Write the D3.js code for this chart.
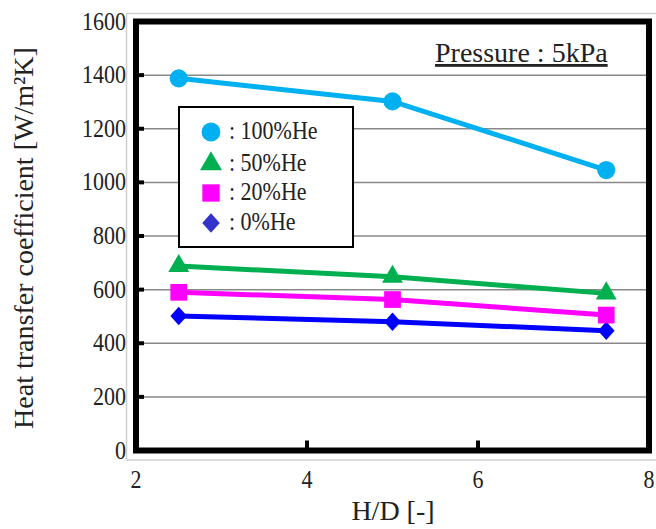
<!DOCTYPE html>
<html>
<head>
<meta charset="utf-8">
<script src="https://cdn.jsdelivr.net/npm/d3@7"></script>
<style>
  body { margin: 0; background: #fff; }
</style>
</head>
<body>
<svg id="chart" width="656" height="529" font-family="'Liberation Serif', 'Times New Roman', Times, serif"></svg>
<script>
// data
var hd = [2.5, 5, 7.5]
var he100 = [1388, 1302, 1046]
var he50 = [688, 648, 586]
var he20 = [590, 563, 505]
var he0 = [502, 480, 447]
var xTicks = [2, 4, 6, 8]
var yTicks = [0, 200, 400, 600, 800, 1000, 1200, 1400, 1600]
var seriesNames = [": 100%He", ": 50%He", ": 20%He", ": 0%He"]

var svg = d3.select("#chart")
const frame = { left: 136, right: 649, top: 21.5, bottom: 450.5 }

var x = d3.scaleLinear().domain([2, 8]).range([frame.left, frame.right])
var y = d3.scaleLinear().domain([0, 1600]).range([frame.bottom, frame.top])

// tick and legend text in the picture is slightly taller than wide
function tallText(sel, px, py, size) {
  return sel.append("text").attr("transform", "translate(" + px + "," + py + ") scale(1,1.18)")
    .style("font-size", size + "px").style("fill", "#222")
}

// light outer border of chart area
svg.append("rect").attr("x", 126.5).attr("y", 13.5).attr("width", 540).attr("height", 446.5)
  .style("fill", "none").style("stroke", "#d0d0d0").style("stroke-width", 1.5)

// gridlines
svg.selectAll(".grid").data(yTicks.filter(d => d > 0 && d < 1600)).join("line").attr("class", "grid")
  .attr("x1", frame.left).attr("x2", frame.right).attr("y1", d => y(d)).attr("y2", d => y(d))
  .style("stroke", "#888").style("stroke-width", 1.5)

// y tick labels
yTicks.forEach(function (d) {
  tallText(svg, 126, y(d) + 8, 22).attr("text-anchor", "end").text(d)
})
// x tick labels
xTicks.forEach(function (d) {
  tallText(svg, x(d), 488, 22).attr("text-anchor", "middle").text(d)
})

// tick stubs (inside)
svg.selectAll(".ytick").data(yTicks.filter(d => d > 0 && d < 1600)).join("line").attr("class", "ytick")
  .attr("x1", frame.left).attr("x2", frame.left + 8).attr("y1", d => y(d)).attr("y2", d => y(d))
  .style("stroke", "#000").style("stroke-width", 4)
svg.selectAll(".xtick").data(xTicks.filter(d => d > 2 && d < 8)).join("line").attr("class", "xtick")
  .attr("x1", d => x(d)).attr("x2", d => x(d)).attr("y1", frame.bottom).attr("y2", frame.bottom - 10)
  .style("stroke", "#000").style("stroke-width", 4)

// diamond as a rotated square
var diamondShape = {
  draw: function (ctx, size) {
    var r = Math.sqrt(size) / 2 * Math.SQRT2 * 0.95
    ctx.moveTo(0, -r); ctx.lineTo(r * 0.9, 0); ctx.lineTo(0, r); ctx.lineTo(-r * 0.9, 0); ctx.closePath()
  }
}

// series
var series = [
  { vals: he100, color: "#00b0f0", shape: d3.symbolCircle, size: 260 },
  { vals: he50, color: "#00b050", shape: d3.symbolTriangle, size: 190 },
  { vals: he20, color: "#ff00ff", shape: d3.symbolSquare, size: 280 },
  { vals: he0, color: "#0000ff", shape: diamondShape, size: 190 }
]
var line = d3.line().x(d => x(d[0])).y(d => y(d[1]))
series.slice().reverse().forEach(function (s) {
  var pts = hd.map((h, i) => [h, s.vals[i]])
  svg.append("path").datum(pts).attr("d", line)
    .style("fill", "none").style("stroke", s.color).style("stroke-width", 5)
  svg.selectAll(null).data(pts).join("path")
    .attr("transform", d => "translate(" + x(d[0]) + "," + y(d[1]) + ")")
    .attr("d", d3.symbol().type(s.shape).size(s.size))
    .style("fill", s.color)
})

// frame
svg.append("rect").attr("x", frame.left).attr("y", frame.top)
  .attr("width", frame.right - frame.left).attr("height", frame.bottom - frame.top)
  .style("fill", "none").style("stroke", "#000").style("stroke-width", 6)

// legend
var lg = svg.append("g")
lg.append("rect").attr("x", 179).attr("y", 107).attr("width", 174).attr("height", 140)
  .style("fill", "#fff").style("stroke", "#000").style("stroke-width", 2)
var legendY = [132, 164, 193, 223]
var legendColors = ["#00b0f0", "#00b050", "#ff00ff", "#3333cc"]
series.forEach(function (s, i) {
  lg.append("path").attr("transform", "translate(211," + legendY[i] + ")")
    .attr("d", d3.symbol().type(s.shape).size(s.size + 20)).style("fill", legendColors[i])
  tallText(lg, 229, legendY[i] + 7, 22).text(seriesNames[i])
})

// pressure label
svg.append("text").attr("x", 435).attr("y", 62).style("font-size", "28px").style("fill", "#222")
  .style("text-decoration", "underline").text("Pressure : 5kPa")

// axis titles
svg.append("text").attr("x", 393).attr("y", 520).attr("text-anchor", "middle")
  .style("font-size", "28px").style("fill", "#222").text("H/D [-]")
svg.append("text").attr("transform", "translate(33,238) rotate(-90)").attr("text-anchor", "middle")
  .style("font-size", "28px").style("fill", "#222").text("Heat transfer coefficient [W/m²K]")
</script>
</body>
</html>
